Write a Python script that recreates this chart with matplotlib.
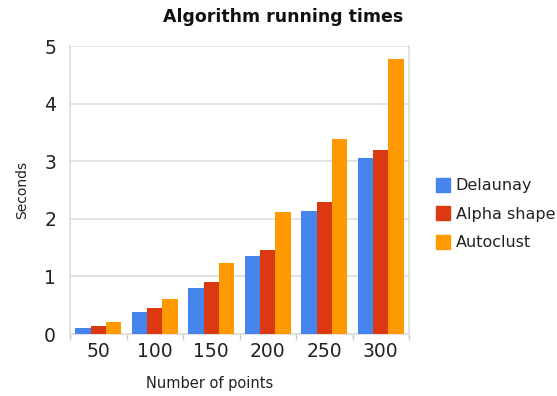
import matplotlib
matplotlib.use("Agg")
import matplotlib.pyplot as plt
import numpy as np

categories = ["50", "100", "150", "200", "250", "300"]
delaunay = [0.11, 0.38, 0.80, 1.35, 2.13, 3.06]
alpha_shape = [0.14, 0.45, 0.91, 1.46, 2.30, 3.19]
autoclust = [0.20, 0.60, 1.24, 2.11, 3.39, 4.77]
series_names = ["Delaunay", "Alpha shape", "Autoclust"]
colors = ["#4684EE", "#DC3912", "#FF9900"]

fig = plt.figure(figsize=(5.57, 3.96), dpi=100)
ax = fig.add_axes([70 / 557, 1 - 334 / 396, 339 / 557, 288 / 396])

x = np.arange(len(categories))
w = 0.27
for i, (vals, name, c) in enumerate(zip([delaunay, alpha_shape, autoclust], series_names, colors)):
    ax.bar(x + (i - 1) * w, vals, width=w, color=c, label=name, zorder=3)

ax.set_xlim(-0.5, len(categories) - 0.5)
ax.set_ylim(0, 5)
ax.set_yticks([0, 1, 2, 3, 4, 5])
ax.set_xticks(x)
ax.set_xticklabels(categories)
ax.set_xticks(np.arange(-0.5, len(categories), 1), minor=True)
ax.tick_params(axis="x", which="major", length=0, labelsize=13.5, colors="#222222", pad=6)
ax.tick_params(axis="x", which="minor", length=4, color="#cccccc", width=1)
ax.tick_params(axis="y", length=0, labelsize=13.5, colors="#222222", pad=10)
ax.grid(axis="y", color="#dddddd", linewidth=1.2, zorder=0)
ax.spines["top"].set_visible(False)
for s in ["left", "right", "bottom"]:
    ax.spines[s].set_color("#dddddd")
    ax.spines[s].set_linewidth(1.2)

ax.set_ylabel("Seconds", fontsize=10, color="#222222", labelpad=11)
ax.set_xlabel("Number of points", fontsize=10.5, color="#222222")
ax.xaxis.set_label_coords(140 / 339, -42 / 288)
fig.suptitle("Algorithm running times", x=283 / 557, y=1 - 8 / 396, fontsize=12.5,
             fontweight="bold", color="#111111", va="top")

handles = [plt.Rectangle((0, 0), 1, 1, color=c) for c in colors]
fig.legend(handles, series_names, loc="center left", bbox_to_anchor=(431 / 557, 1 - 214 / 396),
           frameon=False, fontsize=11.5, handlelength=0.9, handleheight=1.0,
           handletextpad=0.35, labelspacing=0.8, labelcolor="#222222",
           borderaxespad=0, borderpad=0.3)

fig.savefig("out.png", dpi=100)
